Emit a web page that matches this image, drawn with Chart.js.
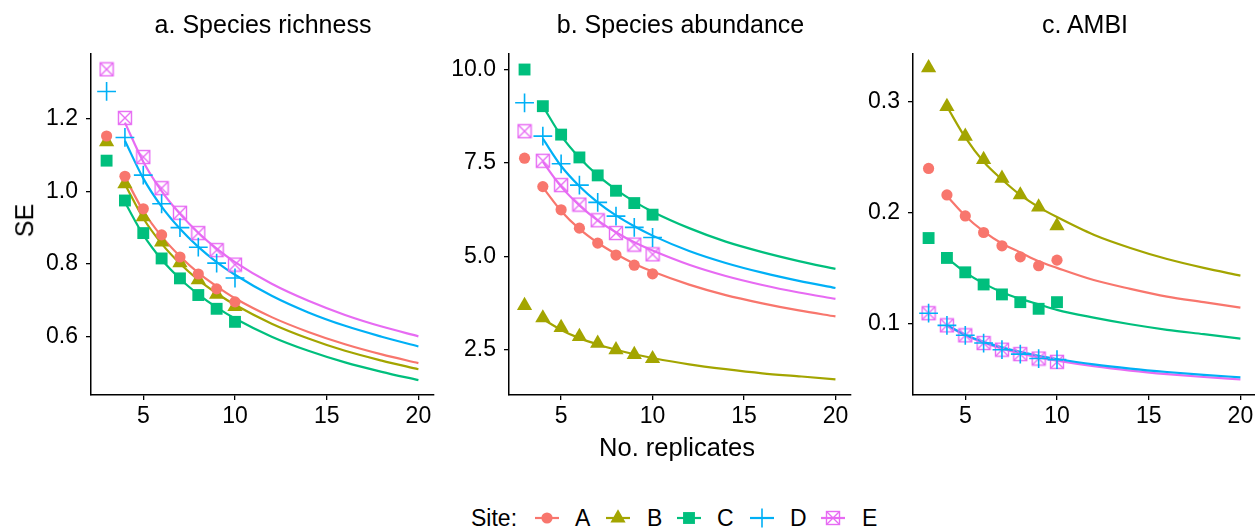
<!DOCTYPE html>
<html>
<head>
<meta charset="utf-8">
<script src="https://cdn.jsdelivr.net/npm/chart.js@4.4.1/dist/chart.umd.min.js"></script>
<style>
  body { margin: 0; background: #fff; }
  #wrap { position: relative; width: 1255px; height: 528px; overflow: hidden; background: #fff;
          font-family: "Liberation Sans", Arial, sans-serif; color: #000; }
  .panel { position: absolute; }
  .title { position: absolute; text-align: center; font-size: 25px; line-height: 25px; white-space: nowrap; }
  .lab { position: absolute; white-space: nowrap; line-height: 23px; font-size: 23px; }
  canvas { display: block; }
</style>
</head>
<body>
<div id="wrap"></div>
<script>
// replicates observed and the fitted curve grid
const reps = [3, 4, 5, 6, 7, 8, 9, 10];
const curveReps = [4, 5, 6, 7, 8, 9, 10, 12, 14, 16, 18, 20];
const sites = ['A', 'B', 'C', 'D', 'E'];
const xTicks = [5, 10, 15, 20];

// a. Species richness (one row per site A..E)
const richnessObs = [
  [1.153, 1.042, 0.952, 0.880, 0.819, 0.772, 0.731, 0.695],
  [1.137, 1.021, 0.930, 0.860, 0.803, 0.756, 0.716, 0.682],
  [1.085, 0.975, 0.885, 0.815, 0.760, 0.714, 0.676, 0.640],
  [1.276, 1.149, 1.045, 0.966, 0.900, 0.846, 0.802, 0.761],
  [1.337, 1.203, 1.095, 1.009, 0.941, 0.885, 0.838, 0.798]
];
const richnessFit = [
  [1.040, 0.946, 0.876, 0.821, 0.775, 0.738, 0.705, 0.653, 0.612, 0.578, 0.550, 0.526],
  [1.020, 0.926, 0.856, 0.801, 0.756, 0.719, 0.687, 0.635, 0.594, 0.560, 0.533, 0.509],
  [0.970, 0.880, 0.812, 0.759, 0.716, 0.680, 0.649, 0.599, 0.560, 0.528, 0.502, 0.479],
  [1.140, 1.036, 0.958, 0.897, 0.847, 0.805, 0.770, 0.712, 0.666, 0.629, 0.599, 0.572],
  [1.190, 1.082, 1.001, 0.938, 0.886, 0.842, 0.805, 0.745, 0.698, 0.659, 0.627, 0.600]
];
const richnessTicks = [0.6, 0.8, 1.0, 1.2];

// b. Species abundance
const abundanceObs = [
  [7.63, 6.87, 6.25, 5.76, 5.36, 5.04, 4.77, 4.54],
  [3.69, 3.36, 3.10, 2.86, 2.68, 2.51, 2.38, 2.27],
  [10.00, 9.02, 8.26, 7.65, 7.17, 6.76, 6.43, 6.12],
  [9.11, 8.22, 7.48, 6.91, 6.45, 6.08, 5.78, 5.51],
  [8.35, 7.56, 6.91, 6.39, 5.97, 5.63, 5.32, 5.06]
];
const abundanceFit = [
  [6.85, 6.22, 5.74, 5.37, 5.07, 4.81, 4.60, 4.25, 3.97, 3.75, 3.56, 3.40],
  [3.33, 3.04, 2.82, 2.65, 2.51, 2.39, 2.29, 2.12, 1.99, 1.88, 1.80, 1.72],
  [9.02, 8.23, 7.64, 7.17, 6.79, 6.47, 6.20, 5.76, 5.40, 5.12, 4.88, 4.67],
  [8.15, 7.42, 6.88, 6.45, 6.10, 5.81, 5.56, 5.15, 4.83, 4.57, 4.35, 4.16],
  [7.53, 6.87, 6.37, 5.97, 5.65, 5.38, 5.16, 4.78, 4.48, 4.24, 4.04, 3.87]
];
const abundanceTicks = [2.5, 5.0, 7.5, 10.0];

// c. AMBI
const ambiObs = [
  [0.240, 0.216, 0.197, 0.182, 0.170, 0.160, 0.152, 0.157],
  [0.331, 0.296, 0.269, 0.248, 0.231, 0.216, 0.205, 0.188],
  [0.177, 0.159, 0.146, 0.135, 0.126, 0.119, 0.113, 0.119],
  [0.109, 0.098, 0.089, 0.082, 0.076, 0.072, 0.068, 0.067],
  [0.109, 0.098, 0.089, 0.082, 0.076, 0.072, 0.068, 0.065]
];
const ambiFit = [
  [0.215, 0.197, 0.183, 0.172, 0.164, 0.156, 0.150, 0.139, 0.131, 0.124, 0.119, 0.114],
  [0.296, 0.268, 0.246, 0.230, 0.216, 0.205, 0.196, 0.180, 0.168, 0.158, 0.150, 0.143],
  [0.159, 0.146, 0.136, 0.128, 0.122, 0.117, 0.112, 0.105, 0.099, 0.094, 0.090, 0.086],
  [0.098, 0.0895, 0.0831, 0.0781, 0.0740, 0.0705, 0.0676, 0.0627, 0.0589, 0.0558, 0.0532, 0.051],
  [0.098, 0.0890, 0.0823, 0.0770, 0.0727, 0.0691, 0.0661, 0.0611, 0.0571, 0.0539, 0.0513, 0.049]
];
const ambiTicks = [0.1, 0.2, 0.3];

const siteColors = ['#F8766D', '#A3A500', '#00BF7D', '#00B0F6', '#E76BF3'];
const FONT = '"Liberation Sans", Arial, sans-serif';

// square with an X through it (ggplot shape 7)
function boxCross(size, color) {
    const c = document.createElement('canvas');
    c.width = size; c.height = size;
    const g = c.getContext('2d');
    const p = 1.5, s = size - 2 * p;
    g.strokeStyle = color;
    g.lineWidth = 1.4;
    g.strokeRect(p, p, s, s);
    g.beginPath();
    g.moveTo(p, p); g.lineTo(p + s, p + s);
    g.moveTo(p + s, p); g.lineTo(p, p + s);
    g.stroke();
    return c;
}

const markers = [
    { pointStyle: 'circle', radius: 5.6, filled: true },
    { pointStyle: 'triangle', radius: 8.8, filled: true },
    { pointStyle: 'rect', radius: 8.4, filled: true },
    { pointStyle: 'cross', radius: 9.4, filled: false },
    { pointStyle: boxCross(16, siteColors[4]), radius: 8, filled: false }
];

const wrap = document.getElementById('wrap');
const T = 47, B = 395, yW = 80, padTop = 15, padR = 10;
const xMin = 2.15, xMax = 20.85;

const panels = [
    { title: 'a. Species richness', obs: richnessObs, fit: richnessFit, ticks: richnessTicks, yMin: 0.438, yMax: 1.380, L: 91, R: 435 },
    { title: 'b. Species abundance', obs: abundanceObs, fit: abundanceFit, ticks: abundanceTicks, yMin: 1.30, yMax: 10.42, L: 509, R: 852 },
    { title: 'c. AMBI', obs: ambiObs, fit: ambiFit, ticks: ambiTicks, yMin: 0.035, yMax: 0.3437, L: 913, R: 1257 }
];

function axisStyle() {
    return {
        grid: { display: true, drawOnChartArea: false, drawTicks: true, tickLength: 5, color: '#000', lineWidth: 1.3 },
        border: { display: true, color: '#000', width: 1.5 },
    };
}

panels.forEach(p => {
    const w = yW + (p.R - p.L) + padR;
    const h = 404;
    const xH = h - padTop - (B - T);

    const div = document.createElement('div');
    div.className = 'panel';
    div.style.left = (p.L - yW) + 'px';
    div.style.top = (T - padTop) + 'px';
    const cv = document.createElement('canvas');
    cv.width = w; cv.height = h;
    cv.style.width = w + 'px'; cv.style.height = h + 'px';
    div.appendChild(cv);
    wrap.appendChild(div);

    const t = document.createElement('div');
    t.className = 'title';
    t.textContent = p.title;
    t.style.left = p.L + 'px';
    t.style.width = (p.R - p.L) + 'px';
    t.style.top = '12px';
    wrap.appendChild(t);

    const datasets = [];
    sites.forEach((s, i) => {
        const m = markers[i];
        datasets.push({
            label: s,
            data: reps.map((n, j) => ({ x: n, y: p.obs[i][j] })),
            showLine: false,
            pointStyle: m.pointStyle,
            pointRadius: m.radius,
            pointHoverRadius: m.radius,
            pointBackgroundColor: m.filled ? siteColors[i] : 'rgba(0,0,0,0)',
            pointBorderColor: siteColors[i],
            pointBorderWidth: m.filled ? 0 : 1.6,
            clip: false
        });
    });
    sites.forEach((s, i) => {
        datasets.push({
            label: s + ' fit',
            data: curveReps.map((n, j) => ({ x: n, y: p.fit[i][j] })),
            showLine: true,
            borderColor: siteColors[i],
            borderWidth: 2.2,
            pointRadius: 0,
            cubicInterpolationMode: 'monotone',
            fill: false,
            clip: false
        });
    });

    const xs = axisStyle(), ys = axisStyle();
    new Chart(cv, {
        type: 'scatter',
        data: { datasets },
        options: {
            responsive: false,
            animation: false,
            events: [],
            layout: { padding: { top: padTop, right: padR, left: 0, bottom: 0 } },
            plugins: { legend: { display: false }, tooltip: { enabled: false }, title: { display: false } },
            scales: {
                x: Object.assign(xs, {
                    type: 'linear', min: xMin, max: xMax,
                    afterBuildTicks: sc => { sc.ticks = xTicks.map(v => ({ value: v })); },
                    afterFit: sc => { sc.height = xH; },
                    ticks: { color: '#000', font: { family: FONT, size: 23 }, padding: 3, maxRotation: 0, autoSkip: false,
                             callback: v => String(v) }
                }),
                y: Object.assign(ys, {
                    type: 'linear', min: p.yMin, max: p.yMax,
                    afterBuildTicks: sc => { sc.ticks = p.ticks.map(v => ({ value: v })); },
                    afterFit: sc => { sc.width = yW; },
                    ticks: { color: '#000', font: { family: FONT, size: 23 }, padding: 8, autoSkip: false,
                             callback: v => v.toFixed(1) }
                })
            }
        }
    });
});

// axis titles
const xl = document.createElement('div');
xl.className = 'lab';
xl.style.fontSize = '25.5px'; xl.style.lineHeight = '25.5px';
xl.style.textAlign = 'center';
xl.style.width = '200px';
xl.textContent = 'No. replicates';
xl.style.left = '577px'; xl.style.top = '435px';
wrap.appendChild(xl);

const yl = document.createElement('div');
yl.className = 'lab';
yl.style.fontSize = '25px'; yl.style.lineHeight = '25px';
yl.textContent = 'SE';
yl.style.left = '8px'; yl.style.top = '208px';
yl.style.transform = 'rotate(-90deg)';
yl.style.transformOrigin = 'center center';
wrap.appendChild(yl);

// legend
function addText(txt, left) {
    const d = document.createElement('div');
    d.className = 'lab';
    d.textContent = txt;
    d.style.left = left + 'px';
    d.style.top = '507px';
    wrap.appendChild(d);
}
addText('Site:', 471);
const keyX = [547, 618, 689, 762, 833];
const keyTextX = [575, 647, 717, 790, 862];
sites.forEach((s, i) => {
    const c = document.createElement('canvas');
    c.width = 34; c.height = 22;
    c.style.position = 'absolute';
    c.style.left = (keyX[i] - 17) + 'px';
    c.style.top = (518 - 11) + 'px';
    const g = c.getContext('2d');
    g.strokeStyle = siteColors[i];
    g.lineWidth = 2.2;
    g.beginPath(); g.moveTo(5, 11); g.lineTo(29, 11); g.stroke();
    const m = markers[i];
    g.fillStyle = siteColors[i];
    g.lineWidth = m.filled ? 0 : 1.6;
    Chart.helpers.drawPoint(g, { pointStyle: m.pointStyle, radius: m.radius, rotation: 0, borderWidth: m.filled ? 0 : 1.6 }, 17, 11);
    wrap.appendChild(c);
    addText(s, keyTextX[i]);
});
</script>
</body>
</html>
